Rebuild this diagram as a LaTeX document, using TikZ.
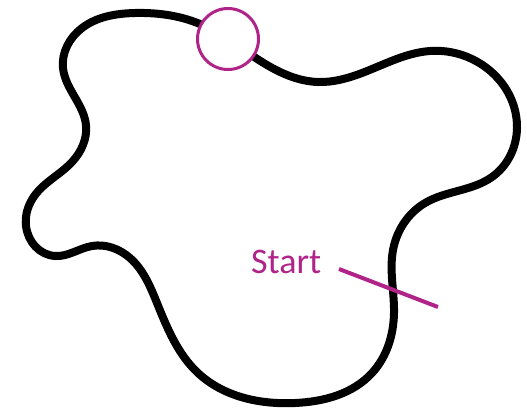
\documentclass[tikz,border=0pt]{standalone}
\usepackage{fontspec}
\setmainfont{Carlito}
\usetikzlibrary{hobby}
\definecolor{startpink}{RGB}{176,36,138}

\begin{document}
\begin{tikzpicture}[
      x=1pt, y=-1pt,
      track/.style={line width=8pt, black, line cap=round},
      marker/.style={draw=startpink, line width=3pt, fill=white, circle, minimum size=61pt, inner sep=0pt},
      startline/.style={draw=startpink, line width=4pt},
      label/.style={text=startpink, font=\fontsize{36}{42}\selectfont, anchor=base west, inner sep=0pt}
    ]
      \useasboundingbox (0,0) rectangle (527,413);
      \draw[track, use Hobby shortcut, closed=true]
        (26,226) .. (55,256) .. (92,246) .. (130,258) .. (157,303)
        .. (198,373) .. (295,403) .. (372,373) .. (394,313) .. (393,250)
        .. (425,203) .. (492,177) .. (517,128) .. (472,59) .. (430,51)
        .. (362,73) .. (318,82) .. (262,62) .. (200,24) .. (135,13)
        .. (82,28) .. (63,68) .. (86,125) .. (72,162) .. (35,195);
      \node[marker] (mark) at (228,39) {};
      \node[label] (start) at (251,273) {Start};
      \coordinate (lineA) at (339,269);
      \coordinate (lineB) at (438,307);
      \draw[startline] (lineA) -- (lineB);
    \end{tikzpicture}
\end{document}
